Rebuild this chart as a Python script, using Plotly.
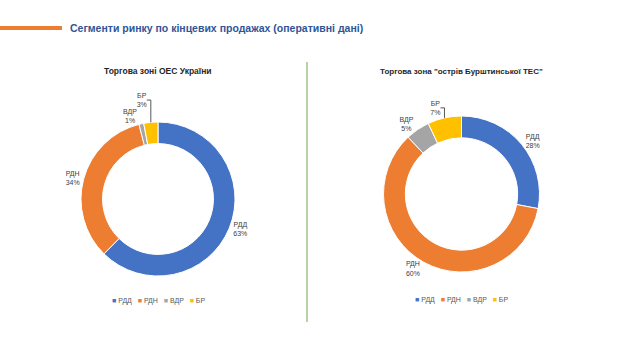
import plotly.graph_objects as go

categories = ["РДД", "РДН", "ВДР", "БР"]
left_values = [63, 34, 1, 3]
right_values = [28, 60, 5, 7]
colors = ["#4472C4", "#ED7D31", "#A5A5A5", "#FFC000"]

title_main = "Сегменти ринку по кінцевих продажах (оперативні дані)"
title_left = "Торгова зоні ОЕС України"
title_right = "Торгова зона \"острів Бурштинської ТЕС\""

W, H = 637, 358
font = "Liberation Sans"

fig = go.Figure()

def px_dom(x0, x1, y0, y1):
    return dict(x=[x0 / W, x1 / W], y=[1 - y1 / H, 1 - y0 / H])

for vals, dom in [(left_values, px_dom(81, 235, 122, 276)),
                  (right_values, px_dom(383, 540, 116, 272))]:
    fig.add_trace(go.Pie(
        labels=categories, values=vals, hole=0.72, sort=False,
        direction="clockwise", rotation=0,
        marker=dict(colors=colors, line=dict(color="white", width=1)),
        textposition="outside", texttemplate="%{label}<br>%{value}%",
        textfont=dict(size=7, color="#404040", family=font),
        domain=dom, showlegend=False, hoverinfo="skip",
    ))

legend_text = "&nbsp;&nbsp;&nbsp;".join(
    f"<span style='color:{c}'>■</span> {lab}" for lab, c in zip(categories, colors)
)

fig.update_layout(
    width=W, height=H,
    margin=dict(l=0, r=0, t=0, b=0),
    paper_bgcolor="white", plot_bgcolor="white",
    shapes=[
        dict(type="line", xref="paper", yref="paper", x0=0, x1=62 / W,
             y0=1 - 28 / H, y1=1 - 28 / H, line=dict(color="#ED7D31", width=4)),
        dict(type="line", xref="paper", yref="paper", x0=307 / W, x1=307 / W,
             y0=1 - 62 / H, y1=1 - 322 / H, line=dict(color="#6AA84F", width=1)),
    ],
    annotations=[
        dict(text="<b>" + title_main + "</b>", xref="paper", yref="paper",
             x=68 / W, y=1 - 28 / H, xanchor="left", yanchor="middle",
             showarrow=False, font=dict(size=10.5, color="#2F5597", family=font)),
        dict(text="<b>" + title_left + "</b>", xref="paper", yref="paper",
             x=158 / W, y=1 - 71 / H, xanchor="center", yanchor="middle",
             showarrow=False, font=dict(size=8.5, color="#262626", family=font)),
        dict(text="<b>" + title_right + "</b>", xref="paper", yref="paper",
             x=461 / W, y=1 - 71 / H, xanchor="center", yanchor="middle",
             showarrow=False, font=dict(size=8, color="#262626", family=font)),
        dict(text=legend_text, xref="paper", yref="paper",
             x=158 / W, y=1 - 301 / H, xanchor="center", yanchor="middle",
             showarrow=False, font=dict(size=7, color="#595959", family=font)),
        dict(text=legend_text, xref="paper", yref="paper",
             x=461 / W, y=1 - 300 / H, xanchor="center", yanchor="middle",
             showarrow=False, font=dict(size=7, color="#595959", family=font)),
    ],
)

fig.write_html("out.html", config={"displayModeBar": False},
               post_script="document.body.style.margin='0';")
